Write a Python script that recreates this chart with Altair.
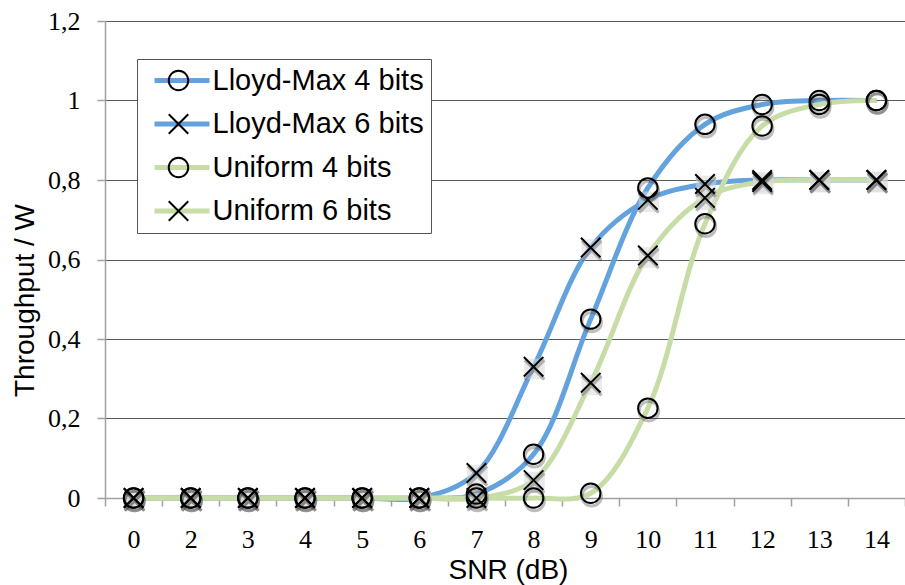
import altair as alt
import pandas as pd

# SNR categories on the x axis (no 1 dB point)
snr = ["0", "2", "3", "4", "5", "6", "7", "8", "9", "10", "11", "12", "13", "14"]

series_names = ["Lloyd-Max 4 bits", "Lloyd-Max 6 bits", "Uniform 4 bits", "Uniform 6 bits"]
marker_kinds = ["circle", "x", "circle", "x"]

lloyd_4 = [0, 0, 0, 0, 0, 0, 0.01, 0.11, 0.45, 0.78, 0.94, 0.99, 1.0, 1.0]
lloyd_6 = [0, 0, 0, 0, 0, 0, 0.063, 0.33, 0.63, 0.75, 0.79, 0.80, 0.80, 0.80]
uniform_4 = [0, 0, 0, 0, 0, 0, 0, 0, 0.012, 0.226, 0.69, 0.936, 0.99, 1.0]
uniform_6 = [0, 0, 0, 0, 0, 0, 0, 0.045, 0.29, 0.61, 0.755, 0.795, 0.80, 0.80]

line_colors = ["#64A2DE", "#64A2DE", "#C8DCA8", "#C8DCA8"]
y_ticks = [0, 0.2, 0.4, 0.6, 0.8, 1.0, 1.2]

X_PATH = "M-1,-1L1,1M-1,1L1,-1"
LEGEND_LINE = "M-2.75,0H2.75"
shape_range = ["circle" if k == "circle" else X_PATH for k in marker_kinds]

rows = []
for name, kind, vals in zip(series_names, marker_kinds, [lloyd_4, lloyd_6, uniform_4, uniform_6]):
    for i, (s, v) in enumerate(zip(snr, vals)):
        rows.append({"snr": s, "idx": i, "throughput": v, "series": name, "marker": name, "kind": kind})
df = pd.DataFrame(rows)

SANS = "Liberation Sans"
SERIF = "Liberation Serif"
AXIS_GRAY = "#A0A0A0"

x_enc = alt.X(
    "snr:O",
    sort=snr,
    scale=alt.Scale(type="band", paddingInner=0, paddingOuter=0),
    axis=alt.Axis(
        title="SNR (dB)",
        labelAngle=0,
        labelFont=SERIF,
        labelFontSize=26,
        labelColor="black",
        labelBaseline="alphabetic",
        labelPadding=41,
        tickBand="extent",
        tickSize=8,
        tickColor=AXIS_GRAY,
        tickWidth=1.5,
        domainColor=AXIS_GRAY,
        domainWidth=1.5,
        grid=False,
        titleFont=SANS,
        titleFontSize=28,
        titleFontWeight="normal",
        titleColor="black",
        titleX=403,
        titleY=80,
        titleAlign="center",
        titleBaseline="alphabetic",
    ),
)

y_enc = alt.Y(
    "throughput:Q",
    scale=alt.Scale(domain=[0, 1.2], nice=False),
    axis=alt.Axis(
        values=y_ticks,
        labelExpr="replace(format(datum.value, '.1~f'), '.', ',')",
        labelFont=SERIF,
        labelFontSize=26,
        labelColor="black",
        labelPadding=17,
        labelBaseline="middle",
        tickSize=8,
        tickColor=AXIS_GRAY,
        tickWidth=1.5,
        domainColor=AXIS_GRAY,
        domainWidth=1.5,
        grid=True,
        gridColor="#5A5A5A",
        gridWidth=1,
        title="Throughput / W",
        titleFont=SANS,
        titleFontSize=28,
        titleFontWeight="normal",
        titleColor="black",
        titleX=-80,
        titleY=279,
        titleAngle=-90,
        titleAlign="center",
        titleBaseline="middle",
    ),
)

base = alt.Chart(df)

# legend rows shared by the line legend and the marker legend drawn over it
LEG_X, LEG_Y, LEG_PAD, LEG_ROW_PAD, LEG_FONT = 32, 38, 7, 13.5, 29

lines = base.mark_line(strokeWidth=5, interpolate="catmull-rom").encode(
    x=x_enc,
    y=y_enc,
    color=alt.Color(
        "series:N",
        sort=series_names,
        scale=alt.Scale(domain=series_names, range=line_colors),
        legend=alt.Legend(
            title=None,
            orient="none",
            legendX=LEG_X,
            legendY=LEG_Y,
            symbolType=LEGEND_LINE,
            symbolSize=400,
            symbolStrokeWidth=5,
            symbolOffset=23.5,
            labelFont=SANS,
            labelFontSize=LEG_FONT,
            labelColor="black",
            labelOffset=16,
            labelLimit=400,
            padding=LEG_PAD,
            rowPadding=LEG_ROW_PAD,
            strokeColor="#555555",
            fillColor="white",
        ),
    ),
    detail="series:N",
    order=alt.Order("idx:Q"),
)

# soft shadows beneath the markers
shadow_circles = base.transform_filter(alt.datum.kind == "circle").mark_point(
    shape="circle", size=380, filled=False, stroke="#444444", strokeWidth=3,
    opacity=0.35, yOffset=3, xOffset=1,
).encode(x=x_enc, y=y_enc)

shadow_boxes = base.transform_filter(alt.datum.kind == "x").mark_point(
    shape="square", size=420, filled=True, color="#D8D8D8",
    opacity=0.55, yOffset=2, xOffset=1,
).encode(x=x_enc, y=y_enc)

shadow_crosses = base.transform_filter(alt.datum.kind == "x").mark_point(
    shape=X_PATH, size=380, filled=False, stroke="#444444", strokeWidth=3,
    opacity=0.35, yOffset=3, xOffset=1,
).encode(x=x_enc, y=y_enc)

markers = base.mark_point(filled=False, size=380, strokeWidth=2, color="black", opacity=1).encode(
    x=x_enc,
    y=y_enc,
    shape=alt.Shape(
        "marker:N",
        sort=series_names,
        scale=alt.Scale(domain=series_names, range=shape_range),
        legend=alt.Legend(
            title=None,
            orient="none",
            legendX=LEG_X + 20,
            legendY=LEG_Y,
            symbolSize=380,
            symbolStrokeWidth=2,
            symbolStrokeColor="black",
            labelExpr="' '",
            labelFont=SANS,
            labelFontSize=LEG_FONT,
            labelOffset=0,
            padding=LEG_PAD,
            rowPadding=LEG_ROW_PAD,
        ),
    ),
)

chart = (
    alt.layer(lines, shadow_boxes, shadow_circles, shadow_crosses, markers)
    .resolve_legend(color="independent", shape="independent")
    .properties(
        width=800,
        height=477,
        autosize=alt.AutoSizeParams(type="none"),
        padding={"left": 105, "top": 21, "right": 0, "bottom": 87},
        background="white",
    )
    .configure_view(stroke=None)
)

chart.save("out.html", embed_options={"renderer": "svg", "actions": False})
